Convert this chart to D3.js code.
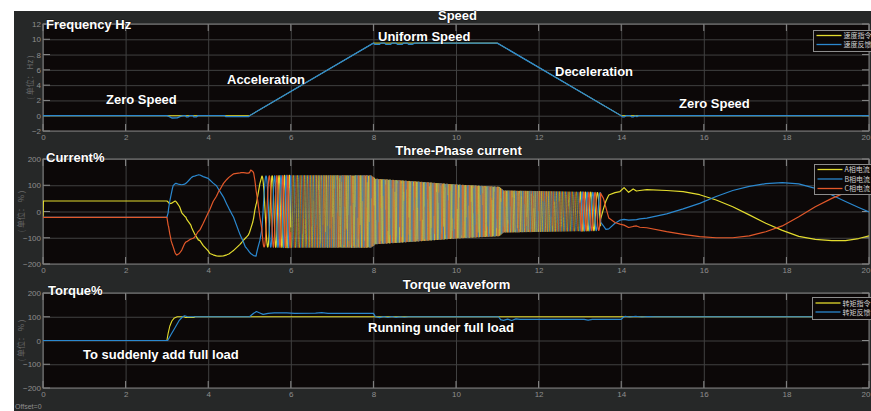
<!DOCTYPE html>
<html><head><meta charset="utf-8">
<script src="https://cdn.jsdelivr.net/npm/d3@7"></script>
<style>
html,body{margin:0;padding:0;background:#fff;overflow:hidden;}
svg{display:block;}
.ann{font-family:"Liberation Sans",Arial,sans-serif;font-weight:bold;fill:#fff;font-size:13px;paint-order:stroke;stroke:rgba(0,0,0,0.55);stroke-width:1.2px;}
.tick text{font-family:"Liberation Sans",Arial,sans-serif;}
</style></head><body>
<svg id="c" width="871" height="411"></svg>
<script>
// ---------------- DATA ----------------
const timeTicks = [0,2,4,6,8,10,12,14,16,18,20];
const speedTicks = [-2,0,2,4,6,8,10,12];
const pctTicks = [-200,-100,0,100,200];

// Speed (Hz)
const speedCmdT = [0,5,8,11,14,20];
const speedCmdV = [0,0,9.5,9.5,0,0];
const speedFbT = [0,3.0,3.06,3.12,3.25,3.33,3.4,3.45,3.47,3.52,3.55,3.63,3.65,3.72,3.75,4.4,4.43,4.98,5.0,8.0,8.03,8.15,8.18,8.27,8.3,8.42,8.45,8.55,8.58,8.7,8.73,8.82,8.85,8.95,9.0,11,14,14.03,14.08,14.12,14.22,14.25,14.3,14.34,14.38,14.42,20];
const speedFbV = [0,0,-0.12,-0.3,-0.28,-0.08,0,0,-0.14,-0.14,0,0,-0.14,-0.14,0,0,-0.12,-0.12,0,9.5,9.33,9.33,9.5,9.5,9.33,9.33,9.5,9.5,9.33,9.33,9.5,9.5,9.35,9.35,9.5,9.5,0,-0.14,-0.14,0,0,-0.14,-0.14,0,-0.12,0,0];

// Three-phase current (%) — slow start segment
const curStartT = [0,0.01,3.0,3.03,3.04,3.07,3.09,3.1,3.13,3.15,3.2,3.22,3.24,3.3,3.31,3.36,3.43,3.46,3.48,3.55,3.58,3.6,3.64,3.67,3.75,3.76,3.8,3.88,4.0,4.04,4.12,4.2,4.25,4.29,4.37,4.45,4.5,4.6,4.61,4.77,4.8,4.85,4.9,4.93,4.97,5.0,5.03,5.08,5.09,5.1,5.13,5.16,5.17,5.2,5.25,5.3];
const curStartA = [-20,40,40,36,33,30,31,31,33,35,40,38,34,20,17,-5,-18,-22,-30,-45,-52,-62,-75,-85,-105,-108,-111,-130,-150,-160,-165,-169,-170,-170,-169,-165,-162,-150,-149,-125,-120,-110,-102,-97,-90,-80,-65,-40,-32,-25,5,28,32,60,105,135];
const curStartB = [-22,-22,-22,-5,10,40,55,62,85,98,106,107,106,103,103,102,104,108,110,122,127,130,134,135,139,140,139,133,126,120,108,98,85,75,55,28,12,-18,-20,-88,-98,-115,-135,-140,-148,-155,-160,-166,-167,-168,-169,-170,-160,-140,-111,-68];
const curStartC = [-22,-22,-22,-52,-57,-85,-100,-110,-125,-134,-158,-163,-166,-160,-158,-147,-122,-116,-115,-108,-105,-104,-102,-98,-78,-76,-70,-45,-5,8,38,58,75,85,107,122,130,142,143,147,148,148,147,146,146,148,158,152,150,147,119,80,70,40,-20,-68];

// Dense segment: amplitude envelope (%)
const envT = [5.3,6,7,7.95,8.05,9,10,11.05,11.15,12,13,13.5];
const envA = [135,138,138,138,125,115,103,94,80,78,75,72];
const elecPerMech = 3;   // electrical cycles per speed Hz
const denseStart = 5.3, denseEnd = 13.5;

// Slow end segment
const curEndT = [13.5,13.57,13.63,13.7,13.85,13.97,14.07,14.18,14.29,14.37,14.45,14.62,15.1,15.5,15.9,16.3,16.7,17.1,17.5,17.9,18.3,18.7,19.1,19.43,19.75,20];
const curEndA = [-30,10,40,63,72,76,91,73,86,78,80,83,80,76,64,44,18,-13,-45,-72,-95,-106,-111,-111,-103,-93];
const curEndB = [-40,-55,-68,-66,-45,-33,-30,-33,-32,-31,-28,-25,-9,10,31,57,80,96,106,110,105,88,63,38,15,-2];
const curEndC = [70,50,15,-25,-42,-48,-52,-61,-57,-55,-60,-62,-77,-87,-96,-100,-100,-93,-77,-55,-20,18,50,72,88,95];

// Torque (%)
const torqCmdT = [0,3.0,3.03,3.07,3.12,3.18,3.25,3.42,3.45,3.65,3.68,20];
const torqCmdV = [0,0,30,60,82,95,100,100,97,97,100,100];
const torqFbT = [0,3.02,3.1,3.2,3.3,3.38,3.43,3.5,5.0,5.1,5.17,5.25,5.33,5.45,5.6,5.9,6.1,6.6,6.75,6.9,7.5,8.0,8.05,8.15,8.25,8.35,8.45,8.55,8.65,8.75,8.85,11.03,11.08,11.15,11.25,11.35,11.45,11.55,13.1,13.2,13.3,14.0,14.05,14.1,14.2,14.35,14.5,14.65,14.8,20];
const torqFbV = [0,0,25,55,85,100,104,100,100,115,122,116,110,114,116,116,114,115,117,114,114,114,100,96,101,97,101,97,100,98,100,100,88,85,90,84,91,89,89,86,89,89,98,102,99,102,99,101,100,100];

// Texts
const legendSpeed = ["速度指令","速度反馈"];
const legendCurrent = ["A相电流","B相电流","C相电流"];
const legendTorque = ["转矩指令","转矩反馈"];
const colYellow = "#e3dc2e", colBlue = "#2b88cf", colOrange = "#e2582a";

// ---------------- DRAW ----------------
const svg = d3.select('#c');
svg.append('rect').attr('x',14).attr('y',11).attr('width',857).attr('height',400).attr('fill','#262828');

const x = d3.scaleLinear().domain([0,20]).range([43,869]);
const zip = (T,V) => T.map((t,i)=>[t,V[i]]);

function panel(o){
  const {top,bottom,domain,ticks,title,ylab,ylabX,series,legend,legendBox} = o;
  const y = d3.scaleLinear().domain(domain).range([bottom,top]);
  const g = svg.append('g');
  const id = 'clip'+top;
  svg.append('clipPath').attr('id',id).append('rect').attr('x',x(0)).attr('y',top).attr('width',x(20)-x(0)).attr('height',bottom-top);
  g.append('rect').attr('x',x(0)).attr('y',top).attr('width',x(20)-x(0)).attr('height',bottom-top).attr('fill','#0c0808');
  const gx = g.append('g').attr('transform',`translate(0,${bottom})`)
    .call(d3.axisBottom(x).tickValues(timeTicks).tickSize(-(bottom-top)).tickPadding(3).tickFormat(d3.format('d')));
  const gy = g.append('g').attr('transform',`translate(${x(0)},0)`)
    .call(d3.axisLeft(y).tickValues(ticks).tickSize(-(x(20)-x(0))).tickPadding(2).tickFormat(d3.format('d')));
  [gx,gy].forEach(a=>{
    a.select('.domain').remove();
    a.selectAll('.tick line').attr('stroke','#414141').attr('stroke-width',1);
    a.selectAll('.tick text').attr('fill','#8e8e8e').attr('font-size','8px');
  });
  gx.selectAll('.tick text').filter(d=>d===20).attr('text-anchor','end').attr('x',1);
  const tl = 7;
  const tg = g.append('g').attr('stroke','#8a8a8a').attr('stroke-width',1);
  timeTicks.forEach(t=>{
    tg.append('line').attr('x1',x(t)).attr('x2',x(t)).attr('y1',bottom).attr('y2',bottom-tl);
    tg.append('line').attr('x1',x(t)).attr('x2',x(t)).attr('y1',top).attr('y2',top+tl);
  });
  ticks.forEach(v=>{
    tg.append('line').attr('x1',x(0)).attr('x2',x(0)+tl).attr('y1',y(v)).attr('y2',y(v));
    tg.append('line').attr('x1',x(20)).attr('x2',x(20)-tl).attr('y1',y(v)).attr('y2',y(v));
  });
  g.append('rect').attr('x',x(0)).attr('y',top).attr('width',x(20)-x(0)).attr('height',bottom-top)
    .attr('fill','none').attr('stroke','#7c7c7c').attr('stroke-width',1);
  const line = d3.line().x(d=>x(d[0])).y(d=>y(d[1]));
  const sg = g.append('g').attr('clip-path',`url(#${id})`);
  (o.pre||[]).forEach(p=>{
    sg.append('path').datum(p.data).attr('d',line).attr('fill','none')
      .attr('stroke',p.color).attr('stroke-width',p.w).attr('stroke-opacity',p.op||1);
  });
  series.forEach(s=>{
    (s.parts || [s.data]).forEach(d=>{
      sg.append('path').datum(d).attr('d',line).attr('fill','none')
        .attr('stroke',s.color).attr('stroke-width',s.w||1.2).attr('stroke-linejoin','round');
    });
  });
  svg.append('text').attr('class','ann').attr('x',o.titleX).attr('y',top-4).attr('text-anchor','middle').text(title);
  svg.append('text').attr('transform',`translate(${ylabX},${(top+bottom)/2}) rotate(-90)`)
    .attr('text-anchor','middle').attr('fill','#6c6c6c').attr('font-size','8px')
    .attr('font-family','"Noto Sans CJK SC","Liberation Sans",sans-serif').text(ylab);
  const lb = legendBox;
  const lg = svg.append('g');
  lg.append('rect').attr('x',lb.x).attr('y',lb.y).attr('width',lb.w).attr('height',lb.h)
    .attr('fill','#0c0808').attr('stroke','#8c8c8c').attr('stroke-width',1);
  legend.forEach((name,i)=>{
    const yy = lb.y + lb.pad + i*lb.step;
    lg.append('line').attr('x1',lb.x+3).attr('x2',lb.x+28).attr('y1',yy).attr('y2',yy)
      .attr('stroke',series[i].color).attr('stroke-width',1.3);
    lg.append('text').attr('x',lb.x+30).attr('y',yy+2.5).attr('fill','#cfcfcf').attr('font-size','7px')
      .attr('font-family','"Noto Sans CJK SC",sans-serif').text(name);
  });
  return y;
}

// current series build
const spd = d3.scaleLinear().domain(speedCmdT).range(speedCmdV);
const env = d3.scaleLinear().domain(envT).range(envA);
const dense = {A:[],B:[],C:[]};
{
  const dt = 0.002;
  let th = Math.PI/2;
  for (let t = denseStart; t <= denseEnd+1e-9; t += dt) {
    const a = env(t);
    dense.A.push([t, a*Math.sin(th)]);
    dense.B.push([t, a*Math.sin(th-2*Math.PI/3)]);
    dense.C.push([t, a*Math.sin(th-4*Math.PI/3)]);
    th += 2*Math.PI*elecPerMech*spd(t+dt/2)*dt;
  }
}
const tSplit1 = 6.0, tSplit2 = 13.0;
const slowParts = (T0,V0,D,T1,V1) => [
  zip(T0,V0).concat(D.filter(d=>d[0]<=tSplit1)),
  D.filter(d=>d[0]>=tSplit2).concat(zip(T1,V1))
];
// dense middle: short chunks, with the drawing order rotating between phases
const densePaths = [];
{
  const phs = [[dense.A,colYellow],[dense.B,colBlue],[dense.C,colOrange]];
  const idx = dense.A.map((d,i)=>i).filter(i=>dense.A[i][0]>=tSplit1-0.002 && dense.A[i][0]<=tSplit2+0.002);
  const chunk = 28;
  for (let k=0; k*chunk < idx.length; k++) {
    const i0 = idx[k*chunk], i1 = idx[Math.min((k+1)*chunk, idx.length-1)];
    const order = [[2,1,0],[0,2,1],[1,0,2]][k%3];
    order.forEach(p=>densePaths.push({data:phs[p][0].slice(i0,i1+1),color:phs[p][1],w:0.6,op:0.95}));
  }
}

panel({top:24,bottom:131,domain:[-2,12],ticks:speedTicks,title:"Speed",titleX:457.5,
  ylab:"( 单位： Hz )",ylabX:33,
  series:[{data:zip(speedCmdT,speedCmdV),color:colYellow,w:1},{data:zip(speedFbT,speedFbV),color:colBlue,w:1.3}],
  legend:legendSpeed,legendBox:{x:813.5,y:30.5,w:60,h:21,pad:5,step:9}});
panel({top:159,bottom:264,domain:[-200,200],ticks:pctTicks,title:"Three-Phase current",titleX:458.5,
  ylab:"( 单位： % )",ylabX:24, pre:densePaths,
  series:[
    {color:colYellow,parts:slowParts(curStartT,curStartA,dense.A,curEndT,curEndA)},
    {color:colBlue,parts:slowParts(curStartT,curStartB,dense.B,curEndT,curEndB)},
    {color:colOrange,parts:slowParts(curStartT,curStartC,dense.C,curEndT,curEndC)}],
  legend:legendCurrent,legendBox:{x:814.5,y:164.5,w:60,h:30,pad:5,step:9.5}});
panel({top:293,bottom:388,domain:[-200,200],ticks:pctTicks,title:"Torque waveform",titleX:456.5,
  ylab:"( 单位： % )",ylabX:24,
  series:[{data:zip(torqCmdT,torqCmdV),color:colYellow,w:1.1},{data:zip(torqFbT,torqFbV),color:colBlue,w:1.2}],
  legend:legendTorque,legendBox:{x:812.5,y:297.5,w:60,h:22,pad:5.5,step:9}});

const anns = [
  ["Frequency Hz",46,29],["Zero Speed",106,103.5],["Acceleration",227,83.5],["Uniform Speed",378,40.5],
  ["Deceleration",555,75.5],["Zero Speed",679,107.5],["Current%",46,162],["Torque%",48,294.5],
  ["To suddenly add full load",83,359],["Running under full load",368,332]
];
anns.forEach(a=>svg.append('text').attr('class','ann').attr('x',a[1]).attr('y',a[2]).text(a[0]));
svg.append('text').attr('x',15).attr('y',409).attr('fill','#8e8e8e').attr('font-size','7px')
  .attr('font-family','"Liberation Sans",Arial,sans-serif').text("Offset=0");
</script>
</body></html>
